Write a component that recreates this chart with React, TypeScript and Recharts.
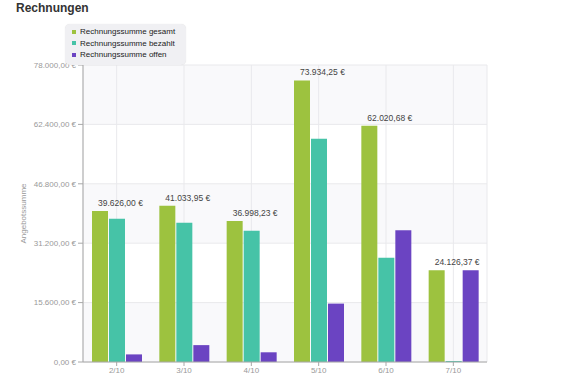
import React from "react";
import { Bar, BarChart, CartesianGrid, LabelList, XAxis, YAxis } from "recharts";

const months = ["2/10", "3/10", "4/10", "5/10", "6/10", "7/10"];
const gesamt = [39626.0, 41033.95, 36998.23, 73934.25, 62020.68, 24126.37];
const bezahlt = [37630, 36600, 34450, 58600, 27400, 0];
const offen = [1996, 4434, 2548, 15334, 34620, 24126.37];
const yTicks = [0, 15600, 31200, 46800, 62400, 78000];

const series = [
  { key: "gesamt", name: "Rechnungssumme gesamt", color: "#9dc23f" },
  { key: "bezahlt", name: "Rechnungssumme bezahlt", color: "#46c3a7" },
  { key: "offen", name: "Rechnungssumme offen", color: "#6b44c2" },
];

const data = months.map((m, i) => ({
  month: m,
  gesamt: gesamt[i],
  bezahlt: bezahlt[i],
  offen: offen[i],
}));

const font = "'Liberation Sans', Arial, sans-serif";

function euro(v: number) {
  const [int, dec] = v.toFixed(2).split(".");
  const withDots = int.replace(/\B(?=(\d{3})+(?!\d))/g, ".");
  return `${withDots},${dec} €`;
}

function TopLabel(props: any) {
  const { x, y, width, value } = props;
  return (
    <text
      x={x + width / 2 - 2}
      y={y - 5}
      textAnchor="start"
      fontSize={8.5}
      fontFamily={font}
      fill="#444"
    >
      {euro(value)}
    </text>
  );
}

export default function App() {
  return (
    <div style={{ position: "absolute", left: 0, top: 0, width: 586, height: 380, background: "#fff" }}>
      <div
        style={{
          position: "absolute",
          left: 16,
          top: 1,
          fontFamily: font,
          fontWeight: "bold",
          fontSize: 12,
          color: "#333",
        }}
      >
        Rechnungen
      </div>
      <BarChart
        width={586}
        height={380}
        data={data}
        margin={{ top: 65, right: 99, bottom: 0, left: 0 }}
        barSize={16}
        barGap={1}
      >
        <CartesianGrid
          stroke="#e9e9ec"
          horizontalFill={["#f9f9fb", "#ffffff"]}
          fillOpacity={1}
        />
        <XAxis
          dataKey="month"
          height={18}
          tickSize={4}
          tickMargin={1}
          stroke="#a8a8a8"
          tick={{ fill: "#999", fontSize: 8, fontFamily: font }}
        />
        <YAxis
          width={83}
          domain={[0, 78000]}
          ticks={yTicks}
          tickSize={5}
          tickMargin={2}
          stroke="#a8a8a8"
          tickFormatter={euro}
          tick={{ fill: "#999", fontSize: 8, fontFamily: font }}
          label={{
            value: "Angebotssumme",
            angle: -90,
            position: "insideLeft",
            offset: 23,
            fill: "#999",
            fontSize: 8,
            fontFamily: font,
            style: { textAnchor: "middle" },
          }}
        />
        <Bar dataKey="gesamt" fill={series[0].color} isAnimationActive={false}>
          <LabelList dataKey="gesamt" content={TopLabel} />
        </Bar>
        <Bar dataKey="bezahlt" fill={series[1].color} minPointSize={1} isAnimationActive={false} />
        <Bar dataKey="offen" fill={series[2].color} isAnimationActive={false} />
      </BarChart>
      <div
        style={{
          position: "absolute",
          left: 65,
          top: 24,
          width: 110,
          padding: "2px 4px 4px 7px",
          background: "#f0f0f3",
          borderRadius: 5,
          boxShadow: "0 0 1px rgba(0,0,0,0.15)",
          fontFamily: font,
          fontSize: 8,
          color: "#222",
        }}
      >
        {series.map((s) => (
          <div key={s.key} style={{ display: "flex", alignItems: "center", height: 11.5 }}>
            <span style={{ display: "inline-block", width: 4, height: 4, background: s.color, marginRight: 4 }} />
            {s.name}
          </div>
        ))}
      </div>
    </div>
  );
}
